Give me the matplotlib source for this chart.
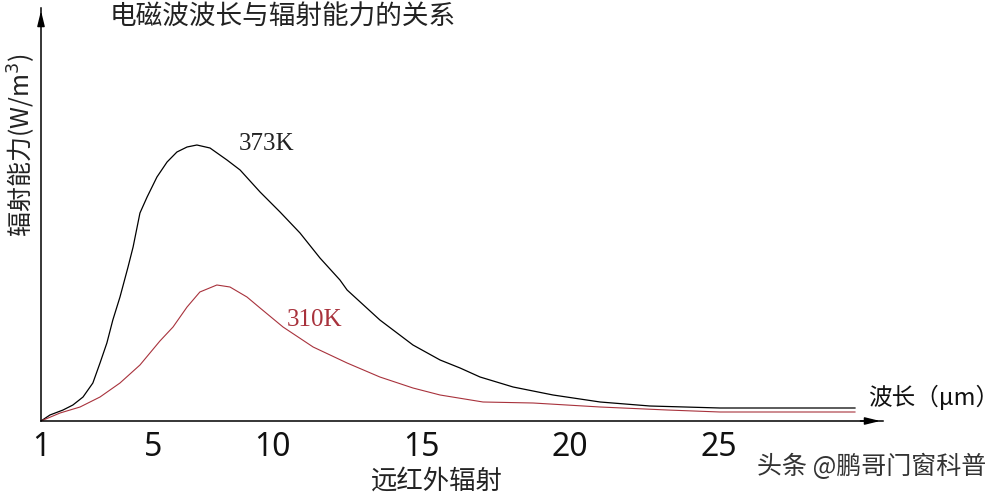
import matplotlib
matplotlib.use("Agg")
import matplotlib.pyplot as plt

# ---- data ----
x_black = [2.25, 2.55, 2.99, 3.32, 3.66, 3.99, 4.23, 4.46, 4.66, 4.90, 5.17, 5.34, 5.57,
           5.81, 6.14, 6.48, 6.81, 7.15, 7.48, 7.92, 8.49, 8.93, 9.60, 10.27, 10.94,
           11.61, 12.28, 12.52, 13.62, 14.73, 15.64, 16.31, 16.98, 18.09, 19.43,
           21.01, 22.68, 25.03, 29.56]
y_black = [0.0, 0.06, 0.11, 0.16, 0.24, 0.38, 0.58, 0.78, 1.01, 1.24, 1.54, 1.74, 2.08,
           2.24, 2.44, 2.59, 2.69, 2.74, 2.76, 2.73, 2.61, 2.51, 2.29, 2.09, 1.88,
           1.63, 1.41, 1.31, 1.01, 0.76, 0.61, 0.53, 0.44, 0.34, 0.26,
           0.19, 0.15, 0.13, 0.13]

x_red = [2.25, 2.89, 3.56, 4.23, 4.90, 5.57, 6.24, 6.68, 7.15, 7.58, 8.15, 8.59, 9.16,
         9.60, 10.37, 11.38, 12.52, 13.62, 14.73, 15.64, 17.08, 18.76, 21.01, 23.26,
         25.03, 29.56]
y_red = [0.0, 0.08, 0.14, 0.24, 0.38, 0.56, 0.80, 0.94, 1.14, 1.29, 1.36, 1.34, 1.24,
         1.13, 0.94, 0.74, 0.58, 0.44, 0.33, 0.26, 0.19, 0.18, 0.14, 0.11,
         0.09, 0.09]

tick_pos = [2.25, 6.0, 10, 15, 20, 25]
tick_labels = ["1", "5", "10", "15", "20", "25"]

series_labels = ["373K", "310K"]
title = "电磁波波长与辐射能力的关系"
ylabel = "辐射能力(W/m$^3$)"
xlabel_end = "波长（μm）"
xlabel_below = "远红外辐射"
watermark = "头条 @鹏哥门窗科普"

CJK = ["Noto Sans CJK SC", "DejaVu Sans"]
RED = "#a8323c"

fig = plt.figure(figsize=(10.07, 4.96), dpi=100)
fig.patch.set_facecolor("white")
ax = fig.add_axes([41/1007, 75/496, 842/1007, 413/496])
ax.set_xlim(2.25, 30.5)
ax.set_ylim(0, 4.13)

ax.plot(x_black, y_black, color="black", lw=0.9, solid_joinstyle="round")
ax.plot(x_red, y_red, color=RED, lw=0.8, solid_joinstyle="round")

for s in ["top", "right"]:
    ax.spines[s].set_visible(False)
for s in ["left", "bottom"]:
    ax.spines[s].set_linewidth(1.1)
    ax.spines[s].set_color("black")

ax.set_yticks([])
ax.set_xticks(tick_pos)
ax.set_xticklabels(tick_labels, fontfamily="Noto Sans", fontsize=23, color="#111111")
ax.tick_params(axis="x", length=0, pad=7)

# arrowheads
ax.annotate("", xy=(1.0, 0), xytext=(0.97, 0), xycoords="axes fraction",
            arrowprops=dict(arrowstyle="-|>,head_length=0.9,head_width=0.22", color="black", lw=1.1),
            annotation_clip=False)
ax.annotate("", xy=(0, 1.0), xytext=(0, 0.95), xycoords="axes fraction",
            arrowprops=dict(arrowstyle="-|>,head_length=0.9,head_width=0.22", color="black", lw=1.1),
            annotation_clip=False)

# series labels
ax.text(8.89, 2.775, series_labels[0], fontfamily="Liberation Serif", fontsize=18,
        color="#222222", va="center", ha="left")
ax.text(10.5, 1.01, series_labels[1], fontfamily="Liberation Serif", fontsize=18,
        color=RED, va="center", ha="left")

# texts in figure pixel coordinates
W, H = 1007, 496
fig.text(110/W, 1 - 17.5/H, title, family=CJK, fontsize=19.2, color="#222222",
         va="center", ha="left")
fig.text(22/W, 1 - 145/H, ylabel, family=CJK, fontsize=18, color="#222222",
         va="center", ha="center", rotation=90)
fig.text(868/W, 1 - 397/H, xlabel_end, family=CJK, fontsize=17, color="#111111",
         va="center", ha="left")
fig.text(437/W, 1 - 481/H, xlabel_below, family=CJK, fontsize=19, color="#222222",
         va="center", ha="center")
fig.text(757/W, 1 - 467/H, watermark, family=CJK, fontsize=18, color="#333333",
         va="center", ha="left")

fig.savefig("out.png", dpi=100, facecolor="white")
